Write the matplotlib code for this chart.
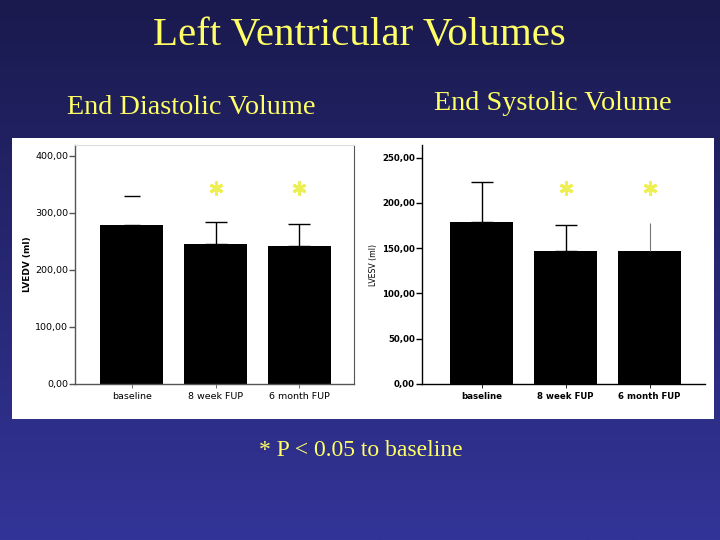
import numpy as np
import matplotlib
matplotlib.use("Agg")
import matplotlib.pyplot as plt
from matplotlib.patches import Rectangle
from matplotlib.ticker import FixedLocator, FixedFormatter

# data
categories = ["baseline", "8 week FUP", "6 month FUP"]

edv_mean = [279, 245, 242]
edv_err = [50, 39, 38]
edv_ticks = [0, 100, 200, 300, 400]
edv_tick_labels = ["0,00", "100,00", "200,00", "300,00", "400,00"]

esv_mean = [179, 147, 147]
esv_err = [44, 29, 31]
esv_ticks = [0, 50, 100, 150, 200, 250]
esv_tick_labels = ["0,00", "50,00", "100,00", "150,00", "200,00", "250,00"]

# significance markers (categories 1 and 2)
sig_idx = [1, 2]

YELLOW = "#ffff66"

fig = plt.figure(figsize=(7.2, 5.4), dpi=100)

# slide background: vertical gradient navy -> blue
bg = fig.add_axes([0, 0, 1, 1], zorder=-10)
grad = np.linspace(0, 1, 256)[:, None]
top = np.array([0x1a, 0x1a, 0x4e]) / 255
bot = np.array([0x33, 0x34, 0x98]) / 255
img = top[None, None, :] * (1 - grad[:, :, None]) + bot[None, None, :] * grad[:, :, None]
bg.imshow(img, aspect="auto", extent=[0, 1, 0, 1])
bg.set_axis_off()

# white panel behind the two charts
fig.patches.append(Rectangle((12 / 720, 1 - 419 / 540), (714 - 12) / 720, (419 - 138) / 540,
                             transform=fig.transFigure, facecolor="white",
                             edgecolor="none", zorder=-5))

serif = ["Liberation Serif", "DejaVu Serif"]
fig.text(359 / 720, 1 - 36 / 540, "Left Ventricular Volumes", color=YELLOW, fontsize=29.5,
         family=serif, ha="center", va="center")
fig.text(191 / 720, 1 - 108 / 540, "End Diastolic Volume", color=YELLOW, fontsize=20.3,
         family=serif, ha="center", va="center")
fig.text(553 / 720, 1 - 103 / 540, "End Systolic Volume", color=YELLOW, fontsize=20.3,
         family=serif, ha="center", va="center")
fig.text(361 / 720, 1 - 451 / 540, "* P < 0.05 to baseline", color=YELLOW, fontsize=17,
         family=serif, ha="center", va="center")


def bar_panel(ax, means, ticks, tick_labels, ylabel, ylim, xlim, weight, fs, ylfs, ylweight):
    x = np.arange(len(categories))
    ax.set_facecolor("none")
    ax.bar(x, means, width=0.75, color="black", zorder=2)
    ax.set_xlim(xlim)
    ax.set_ylim(ylim)
    ax.yaxis.set_major_locator(FixedLocator(ticks))
    ax.yaxis.set_major_formatter(FixedFormatter(tick_labels))
    ax.set_xticks(x)
    ax.set_xticklabels(categories, fontsize=fs, fontweight=weight)
    for lab in ax.get_yticklabels():
        lab.set_fontsize(fs)
        lab.set_fontweight(weight)
    ax.set_ylabel(ylabel, fontsize=ylfs, fontweight=ylweight)
    ax.tick_params(axis="y", direction="out", length=4, width=1, pad=1)
    ax.tick_params(axis="x", direction="out", length=3, width=0.6, pad=3)
    ax.spines["left"].set_linewidth(1)
    ax.spines["bottom"].set_linewidth(1)
    return x


# left chart: end diastolic volume
ax1 = fig.add_axes([75 / 720, 1 - 384 / 540, 279 / 720, 239 / 540])
x1 = bar_panel(ax1, edv_mean, edv_ticks, edv_tick_labels, "LVEDV (ml)",
               (0, 419), (-0.675, 2.65), "normal", 6.8, 6.4, "bold")
ax1.spines["top"].set_color("#dddddd")
ax1.spines["top"].set_linewidth(0.8)
ax1.spines["right"].set_linewidth(0.8)
for side in ("left", "bottom", "right"):
    ax1.spines[side].set_color("#555555")
ax1.tick_params(colors="#555555", labelcolor="black")
# baseline shows only the cap on the slide
ax1.errorbar(x1[:1], edv_mean[:1], yerr=[[0], edv_err[:1]], fmt="none", ecolor="black",
             elinewidth=0, capsize=6, capthick=1, zorder=3)
ax1.errorbar(x1[1:], edv_mean[1:], yerr=[[0, 0], edv_err[1:]], fmt="none", ecolor="black",
             elinewidth=1, capsize=8, capthick=1, zorder=3)
ax1.plot(x1[sig_idx], [344] * len(sig_idx), linestyle="none", marker=(6, 2, 0),
         markersize=10, markeredgewidth=2.2, color="#eeee55", zorder=4)
ax1.yaxis.labelpad = 2

# right chart: end systolic volume
ax2 = fig.add_axes([422 / 720, 1 - 384 / 540, 283 / 720, 239 / 540])
x2 = bar_panel(ax2, esv_mean, esv_ticks, esv_tick_labels, "LVESV (ml)",
               (0, 264), (-0.71, 2.66), "bold", 6.2, 5.6, "normal")
ax2.spines["top"].set_visible(False)
ax2.spines["right"].set_visible(False)
ax2.errorbar(x2[:2], esv_mean[:2], yerr=[[0, 0], esv_err[:2]], fmt="none", ecolor="black",
             elinewidth=1, capsize=8, capthick=1, zorder=3)
# last error bar drawn without a cap
ax2.errorbar(x2[2:], esv_mean[2:], yerr=[[0], esv_err[2:]], fmt="none", ecolor="#777777",
             elinewidth=0.8, capsize=0, zorder=3)
ax2.plot(x2[sig_idx], [216.6] * len(sig_idx), linestyle="none", marker=(6, 2, 0),
         markersize=10, markeredgewidth=2.2, color="#eeee55", zorder=4)
ax2.yaxis.labelpad = 3

fig.savefig("out.png", dpi=100)
